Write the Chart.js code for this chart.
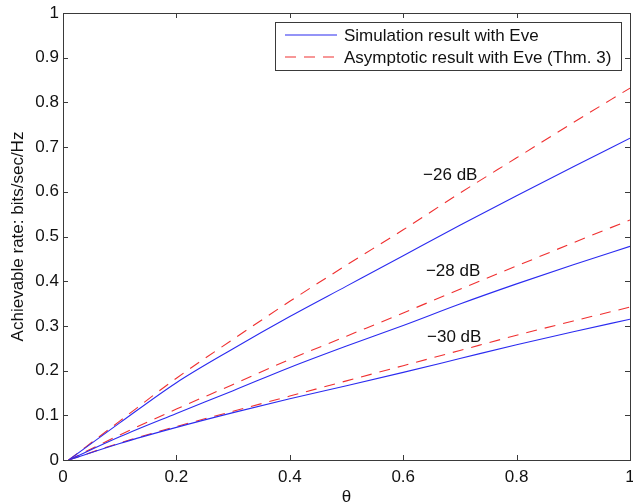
<!DOCTYPE html>
<html lang="en">
<head>
  <meta charset="UTF-8" />
  <title>Achievable rate vs theta</title>
  <script src="https://cdn.jsdelivr.net/npm/chart.js"></script>
  <style>
    body { margin: 0; background: #fff; }
    .wrap { width: 633px; height: 504px; }
  </style>
</head>
<body>
  <div class="wrap">
    <canvas id="rateChart"></canvas>
  </div>

  <script>
    // data
    const theta = [0.01, 0.1, 0.2, 0.3, 0.4, 0.5, 0.6, 0.7, 0.8, 0.9, 1.0];

    const sim26 = [0, 0.083, 0.173, 0.249, 0.321, 0.389, 0.457, 0.525, 0.591, 0.656, 0.72];
    const asy26 = [0, 0.087, 0.183, 0.270, 0.355, 0.436, 0.515, 0.597, 0.676, 0.755, 0.832];
    const sim28 = [0, 0.052, 0.104, 0.155, 0.207, 0.255, 0.301, 0.349, 0.394, 0.437, 0.478];
    const asy28 = [0, 0.056, 0.114, 0.169, 0.225, 0.277, 0.329, 0.382, 0.434, 0.486, 0.537];
    const sim30 = [0, 0.037, 0.073, 0.106, 0.137, 0.166, 0.196, 0.227, 0.258, 0.287, 0.315];
    const asy30 = [0, 0.038, 0.075, 0.109, 0.143, 0.177, 0.211, 0.245, 0.279, 0.311, 0.342];

    const xTicks = [0, 0.2, 0.4, 0.6, 0.8, 1];
    const yTicks = [0, 0.1, 0.2, 0.3, 0.4, 0.5, 0.6, 0.7, 0.8, 0.9, 1];

    const legendLabels = ['Simulation result with Eve', 'Asymptotic result with Eve (Thm. 3)'];
    const snrLabels = ['\u221226 dB', '\u221228 dB', '\u221230 dB'];
    const snrLabelX = [0.683, 0.688, 0.69];
    const snrLabelY = [0.638, 0.423, 0.275];

    const BLUE = '#2b2bf0';
    const RED = '#f03030';
    const FONT = 'Liberation Sans, Arial, sans-serif';

    function pts(ys) {
      return theta.map((t, i) => ({ x: t, y: ys[i] }));
    }

    function simSet(ys) {
      return { label: legendLabels[0], data: pts(ys), borderColor: BLUE, borderWidth: 1.1,
               pointRadius: 0, cubicInterpolationMode: 'monotone', fill: false };
    }
    function asySet(ys) {
      return { label: legendLabels[1], data: pts(ys), borderColor: RED, borderWidth: 1.1,
               borderDash: [11, 8], pointRadius: 0, cubicInterpolationMode: 'monotone', fill: false };
    }

    // matlab style labels: 0, 0.2, 1
    const fmt = v => String(Number(Number(v).toFixed(1)));

    // box, inward ticks, legend and curve labels (matlab look)
    const matlabDecor = {
      id: 'matlabDecor',
      afterDatasetsDraw(chart) {
        const c = chart.ctx;
        const a = chart.chartArea;
        const xs = chart.scales.x, ys = chart.scales.y;
        c.save();
        c.strokeStyle = '#3a3a3a';
        c.lineWidth = 1;
        c.strokeRect(a.left + 0.5, a.top + 0.5, a.right - a.left, a.bottom - a.top);
        c.beginPath();
        xTicks.forEach(v => {
          const px = Math.round(xs.getPixelForValue(v)) + 0.5;
          c.moveTo(px, a.bottom); c.lineTo(px, a.bottom - 5);
          c.moveTo(px, a.top); c.lineTo(px, a.top + 5);
        });
        yTicks.forEach(v => {
          const py = Math.round(ys.getPixelForValue(v)) + 0.5;
          c.moveTo(a.left, py); c.lineTo(a.left + 5, py);
          c.moveTo(a.right, py); c.lineTo(a.right - 5, py);
        });
        c.stroke();

        // curve labels
        c.fillStyle = '#111';
        c.font = '17px ' + FONT;
        c.textAlign = 'center';
        c.textBaseline = 'middle';
        snrLabels.forEach((s, i) => {
          c.fillText(s, xs.getPixelForValue(snrLabelX[i]), ys.getPixelForValue(snrLabelY[i]));
        });

        // legend box
        const bw = 346, bh = 48;
        const bx = a.right - 9 - bw, by = a.top + 9;
        c.fillStyle = '#fff';
        c.fillRect(bx, by, bw, bh);
        c.strokeStyle = '#3a3a3a';
        c.strokeRect(bx + 0.5, by + 0.5, bw, bh);
        const rows = [chart.data.datasets[0], chart.data.datasets[1]];
        rows.forEach((ds, i) => {
          const ry = by + 13 + i * 22;
          c.beginPath();
          c.strokeStyle = ds.borderColor;
          c.lineWidth = ds.borderWidth;
          c.setLineDash(ds.borderDash || []);
          c.moveTo(bx + 10, ry); c.lineTo(bx + 62, ry);
          c.stroke();
          c.setLineDash([]);
          c.fillStyle = '#111';
          c.textAlign = 'left';
          c.fillText(ds.label, bx + 69, ry + 1);
        });
        c.restore();
      }
    };

    const ctx = document.getElementById('rateChart').getContext('2d');
    new Chart(ctx, {
      type: 'line',
      data: {
        datasets: [simSet(sim26), asySet(asy26), simSet(sim28), asySet(asy28), simSet(sim30), asySet(asy30)]
      },
      options: {
        responsive: true,
        maintainAspectRatio: false,
        animation: false,
        layout: { padding: { top: 13, right: 3, left: 0, bottom: 0 } },
        plugins: {
          legend: { display: false },
          tooltip: { enabled: false }
        },
        scales: {
          x: {
            type: 'linear',
            min: 0, max: 1,
            afterBuildTicks: s => { s.ticks = xTicks.map(v => ({ value: v })); },
            afterFit: s => { s.height = 44; s.paddingLeft = 0; s.paddingRight = 0; },
            grid: { display: false, drawTicks: false },
            border: { display: false },
            ticks: { color: '#111', padding: 7, callback: fmt, font: { family: FONT, size: 17 } },
            title: { display: true, text: '\u03b8', color: '#111', padding: 0,
                     font: { family: FONT, size: 17, lineHeight: 0.75 } }
          },
          y: {
            min: 0, max: 1,
            afterBuildTicks: s => { s.ticks = yTicks.map(v => ({ value: v })); },
            afterFit: s => { s.width = 63; s.paddingTop = 0; s.paddingBottom = 0; },
            grid: { display: false, drawTicks: false },
            border: { display: false },
            ticks: { color: '#111', padding: 4, callback: fmt, font: { family: FONT, size: 17 } },
            title: { display: true, text: 'Achievable rate: bits/sec/Hz', color: '#111',
                     padding: { top: 10, bottom: 0 }, font: { family: FONT, size: 17, lineHeight: 1 } }
          }
        }
      },
      plugins: [matlabDecor]
    });
  </script>
</body>
</html>
